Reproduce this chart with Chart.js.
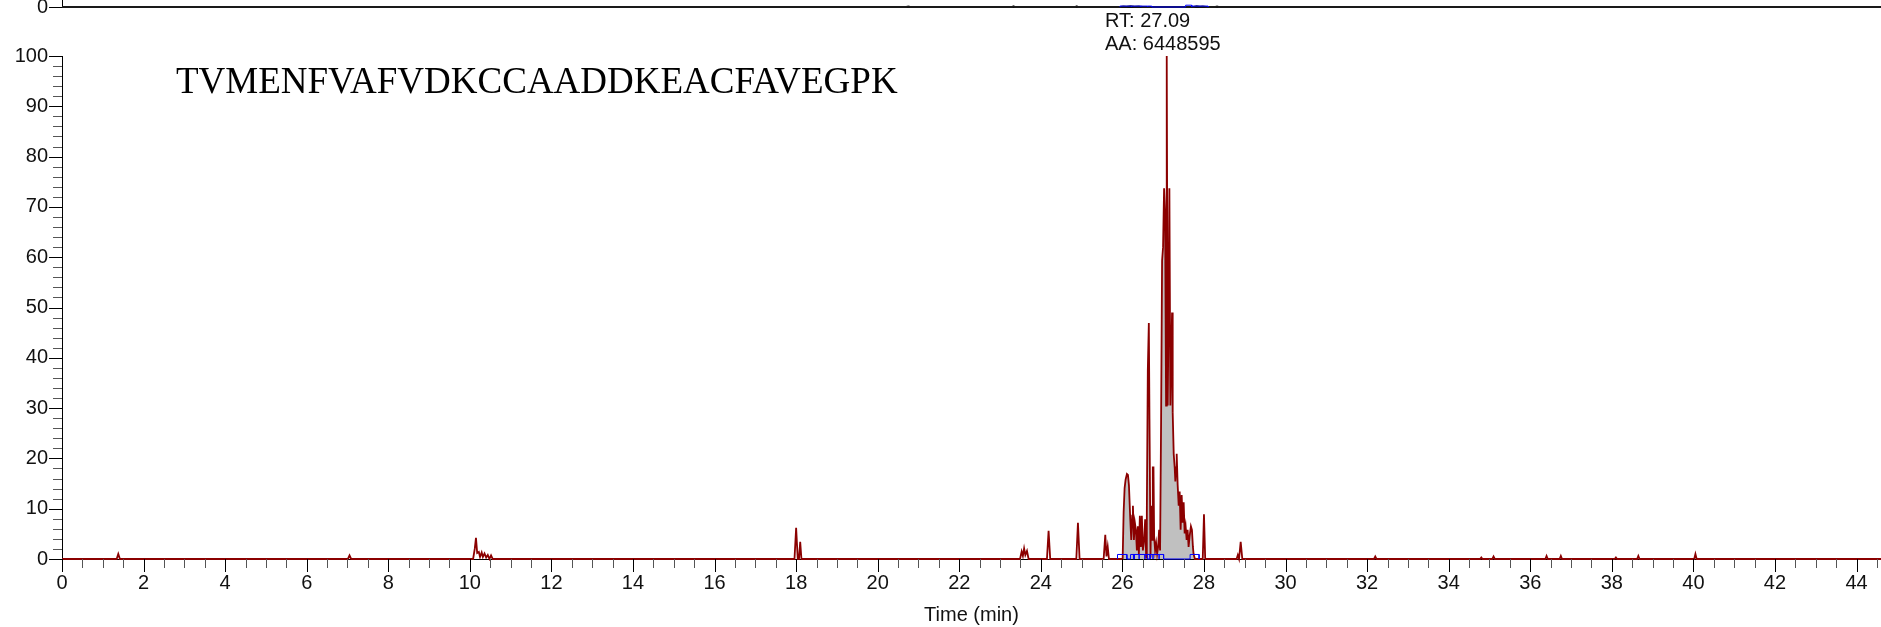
<!DOCTYPE html>
<html>
<head>
<meta charset="utf-8">
<script src="https://cdn.jsdelivr.net/npm/chart.js@4.4.1/dist/chart.umd.min.js"></script>
<style>
  * { margin: 0; padding: 0; box-sizing: border-box; }
  body {
    width: 1881px;
    height: 627px;
    background: #fff;
    overflow: hidden;
    position: relative;
    font-family: "Liberation Sans", Arial, sans-serif;
  }
  #prev { position: absolute; left: 0; top: -37px; }
  #main { position: absolute; left: 0; top: 0; }
  .peptide {
    position: absolute;
    left: 176px;
    top: 62px;
    font-family: "Liberation Serif", "Times New Roman", serif;
    font-size: 37px;
    line-height: 37px;
    color: #000;
    white-space: nowrap;
  }
  .rt {
    position: absolute;
    left: 1105px;
    top: 9px;
    font-size: 20px;
    line-height: 22.6px;
    color: #111;
    white-space: nowrap;
  }
</style>
</head>
<body>
<canvas id="prev" width="1881" height="70"></canvas>
<canvas id="main" width="1881" height="627"></canvas>
<div class="peptide">TVMENFVAFVDKCCAADDKEACFAVEGPK</div>
<div class="rt">RT: 27.09<br>AA: 6448595</div>

<script>
// --- XIC trace (time in min, relative abundance in %) ---
const traceTime = [
  0, 1.34, 1.38, 1.42, 7.01, 7.05, 7.09,
  10.08, 10.12, 10.15, 10.18, 10.22, 10.25, 10.29, 10.32, 10.36, 10.40, 10.44, 10.48, 10.52, 10.56,
  17.96, 18.0, 18.04, 18.07, 18.1, 18.13,
  23.49, 23.53, 23.56, 23.59, 23.62, 23.66, 23.70,
  24.15, 24.19, 24.23, 24.87, 24.91, 24.95,
  25.54, 25.58, 25.61, 25.64, 25.67,
  26.006, 26.03, 26.054, 26.079, 26.111, 26.136, 26.16, 26.193, 26.217, 26.241,
  26.258, 26.282, 26.306, 26.331, 26.355, 26.38, 26.404, 26.428, 26.453, 26.477,
  26.502, 26.534, 26.558, 26.583, 26.599, 26.623, 26.648, 26.664, 26.689, 26.705,
  26.729, 26.745, 26.762, 26.778, 26.802, 26.827, 26.851, 26.876, 26.9, 26.924,
  26.949, 26.973, 26.997, 27.022, 27.046, 27.071, 27.087, 27.111, 27.136, 27.152,
  27.176, 27.201, 27.217, 27.233, 27.258, 27.282, 27.298, 27.315, 27.331, 27.355,
  27.38, 27.404, 27.428, 27.453, 27.477, 27.502, 27.526, 27.55, 27.575, 27.599,
  27.623, 27.648, 27.68, 27.705, 27.729, 27.745, 27.778,
  27.97, 28.0, 28.03,
  28.80, 28.83, 28.86, 28.90, 28.94,
  32.17, 32.2, 32.23, 34.77, 34.8, 34.83, 35.07, 35.1, 35.13,
  36.37, 36.4, 36.43, 36.72, 36.75, 36.78,
  38.07, 38.1, 38.13, 38.62, 38.65, 38.68,
  40.02, 40.05, 40.08, 44.6
];
const traceAbund = [
  0, 0, 1.0, 0, 0, 0.7, 0,
  0, 2.0, 4.2, 1.2, 1.4, 0.4, 1.3, 0.4, 1.1, 0.3, 0.8, 0, 0.7, 0,
  0, 6.2, 0, 0, 3.4, 0,
  0, 1.5, 0.6, 2.1, 0.8, 1.6, 0,
  0, 5.6, 0, 0, 7.2, 0,
  0, 4.8, 0.5, 2.4, 0,
  0, 9.3, 14.1, 15.8, 16.9, 16.7, 14.7, 7.9, 3.8, 8.6,
  10.6, 3.8, 7.2, 5.8, 1.7, 6.5, 1.0, 8.6, 2.4, 8.6,
  1.7, 3.8, 7.9, 0.3, 9.3, 37.4, 46.9, 27.8, 0.3, 10.6,
  3.8, 18.2, 18.2, 4.5, 1.7, 3.1, 1.0, 2.4, 5.8, 1.7,
  27.8, 59.3, 62.0, 73.7, 68.9, 30.5, 100, 30.5, 51.7, 73.7,
  30.5, 41.5, 49.0, 29.1, 20.9, 18.2, 15.4, 18.2, 20.9, 14.7,
  10.6, 13.4, 5.8, 12.7, 7.2, 11.3, 5.1, 6.5, 3.8, 5.8,
  2.4, 4.5, 6.5, 5.8, 2.4, 1.0, 0,
  0, 8.9, 0,
  0, 0.8, 0, 3.4, 0,
  0, 0.5, 0, 0, 0.3, 0, 0, 0.5, 0,
  0, 0.6, 0, 0, 0.6, 0,
  0, 0.3, 0, 0, 0.6, 0,
  0, 1.0, 0, 0
];

// integrated peak window (gray area)
const areaStart = 26.0;
const areaEnd = 27.78;

// peak boundary markers (blue brackets at baseline)
const boundaryStarts = [25.88, 26.20, 26.27, 26.41, 26.55, 26.61, 26.75, 26.90, 27.66];
const boundaryEnds   = [26.11, 26.29, 26.41, 26.55, 26.68, 26.75, 26.90, 27.01, 27.88];
const boundaryLevel = 0.9;

// previous panel (only its baseline shows at the top)
const prevTime   = [0, 20.7, 20.75, 20.8, 23.3, 23.33, 23.36, 24.85, 24.88, 24.91, 25.95, 26.02, 26.1, 26.2, 26.3, 26.4, 26.5, 27.75, 27.82, 27.9, 27.97, 28.05, 28.28, 28.32, 28.36, 44.6];
const prevSignal = [0, 0, 2, 0, 0, 3, 0, 0, 3, 0, 0, 3, 1, 4, 1, 3, 0, 0, 4, 1, 3, 0, 0, 2, 0, 0];
const prevBoundaryStarts = [25.94, 26.22, 26.45, 26.62, 27.55, 27.70];
const prevBoundaryEnds   = [26.22, 26.45, 26.62, 26.72, 27.70, 28.10];
const prevBoundaryLevel  = [5, 5, 5, 5, 10, 5];

const xMax = 44.6;

Chart.defaults.font.family = '"Liberation Sans", Arial, sans-serif';
Chart.defaults.color = '#111';

function bracketPath(starts, ends, level) {
  const pts = [];
  starts.forEach((s, i) => {
    const h = Array.isArray(level) ? level[i] : level;
    pts.push({x: s, y: 0}, {x: s, y: h}, {x: ends[i], y: h}, {x: ends[i], y: 0});
  });
  return pts;
}

// axis lines under the data, tick marks (major/minor) on top
const axisMarks = {
  id: 'axisMarks',
  beforeDatasetsDraw(chart) {
    const {ctx, chartArea: a} = chart;
    ctx.save();
    ctx.strokeStyle = '#000';
    ctx.lineWidth = 1;
    ctx.beginPath();
    ctx.moveTo(a.left + 0.5, a.top);
    ctx.lineTo(a.left + 0.5, a.bottom + 1);
    ctx.moveTo(a.left, a.bottom + 0.5);
    ctx.lineTo(a.right, a.bottom + 0.5);
    ctx.stroke();
    ctx.restore();
  },
  afterDraw(chart, args, opts) {
    const {ctx, chartArea: a, scales: {x, y}} = chart;
    ctx.save();
    ctx.lineWidth = 1;
    const isMajor = (v, step) => Math.abs(v / step - Math.round(v / step)) < 1e-6;
    if (opts.xMinor) {
      const n = Math.floor(x.max / opts.xMinor + 1e-6);
      for (let i = 0; i <= n; i++) {
        const v = i * opts.xMinor;
        const major = isMajor(v, opts.xMajor);
        const px = Math.round(x.getPixelForValue(v)) + 0.5;
        ctx.strokeStyle = major ? '#000' : '#555';
        ctx.beginPath();
        ctx.moveTo(px, a.bottom);
        ctx.lineTo(px, a.bottom + (major ? 13 : 9));
        ctx.stroke();
      }
    }
    if (opts.yMinor) {
      const n = Math.floor(y.max / opts.yMinor + 1e-6);
      for (let i = 0; i <= n; i++) {
        const v = i * opts.yMinor;
        const major = isMajor(v, opts.yMajor);
        const py = Math.round(y.getPixelForValue(v)) + 0.5;
        ctx.strokeStyle = major ? '#000' : '#555';
        ctx.beginPath();
        ctx.moveTo(a.left - (major ? 13 : 9), py);
        ctx.lineTo(a.left, py);
        ctx.stroke();
      }
    }
    ctx.restore();
  }
};

const traceData = traceTime.map((t, i) => ({x: t, y: traceAbund[i]}));
const areaData = traceData.filter(p => p.x >= areaStart && p.x <= areaEnd);

new Chart(document.getElementById('main'), {
  type: 'line',
  data: {
    datasets: [
      {
        label: 'boundaries',
        data: bracketPath(boundaryStarts, boundaryEnds, boundaryLevel),
        borderColor: '#0000ff',
        borderWidth: 1,
        pointRadius: 0,
        fill: false,
        tension: 0,
        clip: 6,
      },
      {
        label: 'XIC',
        data: traceData,
        borderColor: '#8b0000',
        borderWidth: 1.8,
        pointRadius: 0,
        fill: false,
        tension: 0,
        clip: 6,
      },
      {
        label: 'area',
        data: areaData,
        borderWidth: 0,
        borderColor: 'rgba(0,0,0,0)',
        backgroundColor: '#c0c0c0',
        pointRadius: 0,
        fill: 'origin',
        tension: 0,
      },
    ],
  },
  options: {
    responsive: false,
    animation: false,
    events: [],
    layout: {padding: {top: 56, left: 0, right: 0, bottom: 0}},
    plugins: {
      legend: {display: false},
      tooltip: {enabled: false},
      axisMarks: {xMajor: 2, xMinor: 0.5, yMajor: 10, yMinor: 2},
    },
    scales: {
      x: {
        type: 'linear',
        min: 0,
        max: xMax,
        grid: {display: false, drawTicks: false},
        border: {display: false},
        ticks: {
          stepSize: 2,
          includeBounds: false,
          maxRotation: 0,
          autoSkip: false,
          padding: 12,
          font: {size: 20},
          callback: v => (Math.abs(v % 2) < 1e-6 ? String(v) : ''),
        },
        title: {
          display: true,
          text: 'Time (min)',
          font: {size: 20},
          padding: {top: 0, bottom: 0},
        },
        afterFit: s => { s.height = 68; },
      },
      y: {
        min: 0,
        max: 100,
        grid: {display: false, drawTicks: false},
        border: {display: false},
        ticks: {stepSize: 10, padding: 14, font: {size: 20}},
        afterFit: s => { s.width = 62; },
      },
    },
  },
  plugins: [axisMarks],
});

// previous panel strip at the very top
new Chart(document.getElementById('prev'), {
  type: 'line',
  data: {
    datasets: [
      {
        data: bracketPath(prevBoundaryStarts, prevBoundaryEnds, prevBoundaryLevel),
        borderColor: '#0000ff',
        borderWidth: 1,
        pointRadius: 0,
        tension: 0,
        clip: 4,
      },
      {
        data: prevTime.map((t, i) => ({x: t, y: prevSignal[i]})),
        borderColor: '#1a1a1a',
        borderWidth: 2,
        pointRadius: 0,
        tension: 0,
        clip: 4,
      },
    ],
  },
  options: {
    responsive: false,
    animation: false,
    events: [],
    layout: {padding: {top: 0, left: 0, right: 0, bottom: 20}},
    plugins: {
      legend: {display: false},
      tooltip: {enabled: false},
      axisMarks: {yMajor: 100, yMinor: 100},
    },
    scales: {
      x: {type: 'linear', min: 0, max: xMax, display: false},
      y: {
        min: 0,
        max: 100,
        grid: {display: false, drawTicks: false},
        border: {display: false},
        ticks: {stepSize: 100, padding: 14, font: {size: 20}, callback: v => (v === 0 ? '0' : '')},
        afterFit: s => { s.width = 62; },
      },
    },
  },
  plugins: [axisMarks],
});
</script>
</body>
</html>
